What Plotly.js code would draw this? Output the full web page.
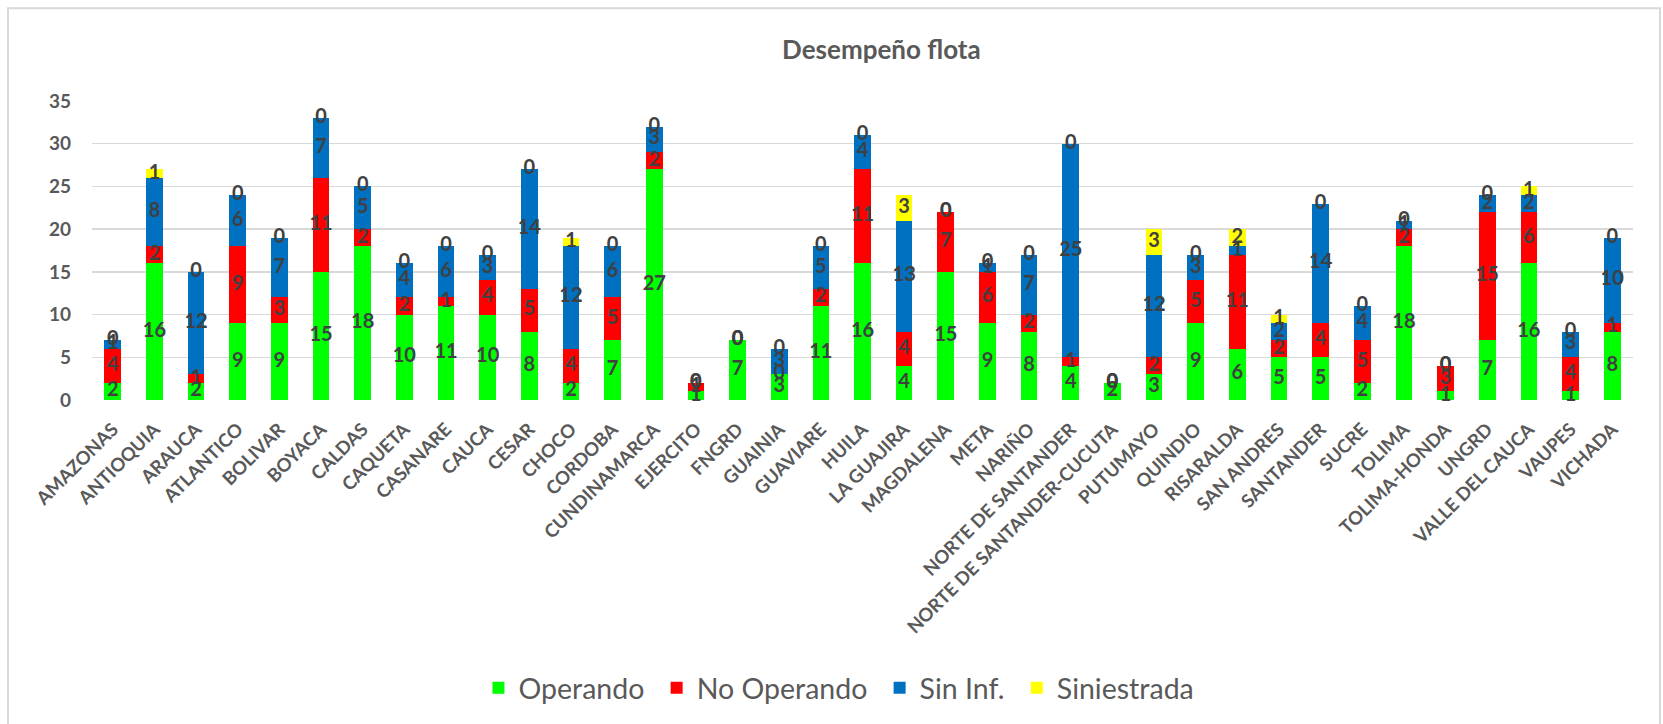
<!DOCTYPE html>
<html>
<head>
<meta charset="utf-8">
<script src="https://cdn.plot.ly/plotly-3.0.1.min.js"></script>
<style>html,body{margin:0;padding:0;background:#fff;}#chart{width:1663px;height:724px;}</style>
</head>
<body>
<div id="chart"></div>
<script>
const categories = ["AMAZONAS","ANTIOQUIA","ARAUCA","ATLANTICO","BOLIVAR","BOYACA","CALDAS","CAQUETA","CASANARE","CAUCA","CESAR","CHOCO","CORDOBA","CUNDINAMARCA","EJERCITO","FNGRD","GUAINIA","GUAVIARE","HUILA","LA GUAJIRA","MAGDALENA","META","NARIÑO","NORTE DE SANTANDER","NORTE DE SANTANDER-CUCUTA","PUTUMAYO","QUINDIO","RISARALDA","SAN ANDRES","SANTANDER","SUCRE","TOLIMA","TOLIMA-HONDA","UNGRD","VALLE DEL CAUCA","VAUPES","VICHADA"];
const operando    = [2,16,2,9,9,15,18,10,11,10,8,2,7,27,1,7,3,11,16,4,15,9,8,4,2,3,9,6,5,5,2,18,1,7,16,1,8];
const noOperando  = [4,2,1,9,3,11,2,2,1,4,5,4,5,2,1,0,0,2,11,4,7,6,2,1,0,2,5,11,2,4,5,2,3,15,6,4,1];
const sinInf      = [1,8,12,6,7,7,5,4,6,3,14,12,6,3,0,0,3,5,4,13,0,1,7,25,0,12,3,1,2,14,4,1,0,2,2,3,10];
const siniestrada = [0,1,0,0,0,0,0,0,0,0,0,1,0,0,0,0,0,0,0,3,0,0,0,0,0,3,0,2,1,0,0,0,0,0,1,0,0];
const seriesNames = ["Operando","No Operando","Sin Inf.","Siniestrada"];
const seriesColors = ["#00FF00","#FF0000","#0070C0","#FFFF00"];

const allSeries = [operando, noOperando, sinInf, siniestrada];
const FONT = "Lato, 'Open Sans', sans-serif";
const traces = [];
allSeries.forEach((vals, i) => {
  traces.push({
    type: "bar", name: seriesNames[i] + "\u00A0", x: categories, y: vals,
    marker: {color: seriesColors[i]}, hoverinfo: "x+y+name"
  });
});
// data labels at segment midpoints
const base = categories.map(() => 0);
allSeries.forEach((vals, i) => {
  const ys = vals.map((v, k) => base[k] + v / 2);
  vals.forEach((v, k) => { base[k] += v; });
  traces.push({
    type: "scatter", mode: "text", x: categories, y: ys,
    text: vals.map(String), showlegend: false, hoverinfo: "skip",
    textfont: {family: FONT, size: 20, color: "#404040", weight: 700},
    cliponaxis: false
  });
});

const layout = {
  width: 1663, height: 724,
  margin: {l: 92, r: 30, t: 101, b: 323},
  paper_bgcolor: "#fff", plot_bgcolor: "#fff",
  barmode: "stack", bargap: 0.6,
  font: {family: FONT, color: "#595959"},
  title: {text: "<b>Desempeño flota</b>", x: 0.53, xref: "container", xanchor: "center",
          y: 0.931, yref: "container", yanchor: "middle",
          font: {family: FONT, size: 26, color: "#595959"}},
  xaxis: {type: "category", range: [-0.5, categories.length - 0.5], tickangle: -45,
          tickfont: {family: FONT, size: 18.5, color: "#595959", weight: 700},
          ticklabelstandoff: 14,
          showgrid: false, showline: false, zeroline: false, ticks: "", automargin: false},
  yaxis: {range: [0, 35], dtick: 5, tickfont: {family: FONT, size: 19, color: "#595959", weight: 700},
          gridcolor: "#D9D9D9", gridwidth: 1.5, zeroline: false, showline: false, ticks: "",
          ticklabelstandoff: 20, automargin: false},
  legend: {orientation: "h", x: 0.487, xanchor: "center", y: -0.957, yanchor: "middle",
           font: {family: FONT, size: 28.5, color: "#595959"}, traceorder: "normal", itemwidth: 30},
  shapes: [{type: "rect", xref: "paper", yref: "paper",
            x0: (8 - 92) / 1541, x1: (1660 - 92) / 1541,
            y0: (401 - 740) / 300, y1: (401 - 8) / 300,
            line: {color: "#D9D9D9", width: 2}, fillcolor: "rgba(0,0,0,0)", layer: "below"}]
};
Plotly.newPlot("chart", traces, layout, {displayModeBar: false, staticPlot: true});
</script>
</body>
</html>
